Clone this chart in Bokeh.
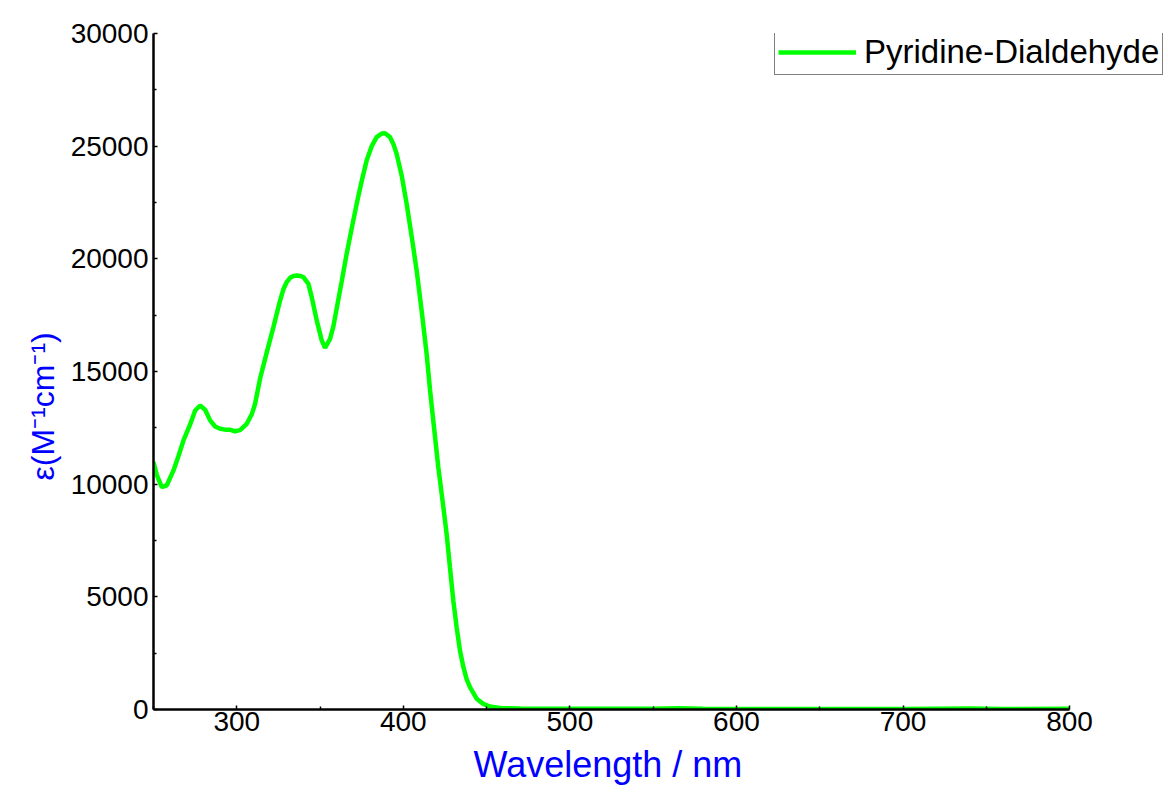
from bokeh.plotting import figure
from bokeh.models import Range1d, FixedTicker, Title
from bokeh.embed import file_html
from bokeh.resources import INLINE

# UV-Vis absorption spectrum of Pyridine-Dialdehyde
wavelength_nm = [250, 252, 255, 258, 262, 265, 268, 272, 275, 278, 281, 284, 287, 290,
                 293, 296, 299, 302, 306, 309, 311, 314, 318, 322, 326, 328, 330, 332,
                 334, 336, 338, 340, 343, 345, 348, 351, 353, 356, 358, 360, 363, 366,
                 369, 372, 375, 378, 381, 384, 387, 389, 392, 394, 396, 399, 402, 405,
                 408, 411, 414, 416, 418, 421, 424, 426, 428, 430, 432, 434, 436, 438,
                 440, 444, 448, 452, 458, 470, 500, 550, 565, 580, 650, 700, 740, 760, 800]
epsilon = [10980, 10400, 9870, 9950, 10610, 11250, 11940, 12650, 13270, 13490, 13300,
           12830, 12560, 12460, 12420, 12410, 12350, 12400, 12680, 13100, 13570, 14690,
           15850, 16970, 18150, 18650, 18970, 19160, 19240, 19260, 19240, 19190, 18890,
           18300, 17270, 16380, 16050, 16450, 17000, 17800, 19000, 20230, 21350, 22440,
           23450, 24370, 25000, 25400, 25560, 25570, 25400, 25100, 24650, 23700, 22440,
           21000, 19480, 17700, 15780, 14200, 12800, 10750, 9000, 7790, 6300, 4840, 3650,
           2620, 1900, 1350, 990, 480, 250, 130, 70, 40, 30, 30, 60, 30, 25, 20, 45, 25, 30]

series_name = "Pyridine-Dialdehyde"
x_label = "Wavelength / nm"
y_label = "ε(M⁻¹cm⁻¹)"
x_ticks = [300, 400, 500, 600, 700, 800]
x_minor = [250, 350, 450, 550, 650, 750]
y_ticks = [0, 5000, 10000, 15000, 20000, 25000, 30000]
y_minor = [2500, 7500, 12500, 17500, 22500, 27500]

FONT = "Liberation Sans"

# The data area runs 250-800 nm; the frame continues past 800 nm (no axis there)
# so that the legend box has room at the top right.
p = figure(width=1168, height=793, output_backend="svg", toolbar_location=None,
           x_range=Range1d(250, 859.4), y_range=Range1d(0, 30000),
           min_border_left=153, min_border_right=0, min_border_top=33, min_border_bottom=84)
p.outline_line_color = None
p.grid.visible = False
p.background_fill_color = "white"
p.border_fill_color = "white"

p.line(wavelength_nm, epsilon, line_color="#00ff00", line_width=4.5, legend_label=series_name)

for ax in (p.xaxis[0], p.yaxis[0]):
    ax.axis_line_width = 2.5
    ax.axis_line_color = "black"
    ax.major_tick_in = 4
    ax.major_tick_out = 0
    ax.minor_tick_in = 3
    ax.minor_tick_out = 0
    ax.major_tick_line_width = 1.5
    ax.minor_tick_line_width = 1.5
    ax.major_label_text_font = FONT
    ax.major_label_text_font_size = "28px"
    ax.major_label_text_color = "black"

p.xaxis.bounds = (250, 800)
p.xaxis.ticker = FixedTicker(ticks=x_ticks, minor_ticks=x_minor)
p.yaxis.ticker = FixedTicker(ticks=y_ticks, minor_ticks=y_minor)
p.xaxis.major_label_standoff = 2
p.yaxis.major_label_standoff = 5

# Axis titles, placed from the start of their panels
ytitle = Title(text=y_label, align="left", offset=229, standoff=14,
               text_font=FONT, text_font_size="32px", text_font_style="normal",
               text_color="blue")
p.add_layout(ytitle, "left")
xtitle = Title(text=x_label, align="left", offset=320, standoff=17,
               text_font=FONT, text_font_size="36px", text_font_style="normal",
               text_color="blue")
p.add_layout(xtitle, "below")

leg = p.legend[0]
leg.location = (621, 634)
leg.border_line_color = "black"
leg.border_line_width = 1
leg.background_fill_color = "white"
leg.background_fill_alpha = 1
leg.label_text_font = FONT
leg.label_text_font_size = "33px"
leg.label_text_color = "black"
leg.glyph_width = 78
leg.glyph_height = 30
leg.label_standoff = 8
leg.padding = 3
leg.margin = 0
leg.spacing = 0

open("out.html", "w").write(file_html(p, INLINE))
